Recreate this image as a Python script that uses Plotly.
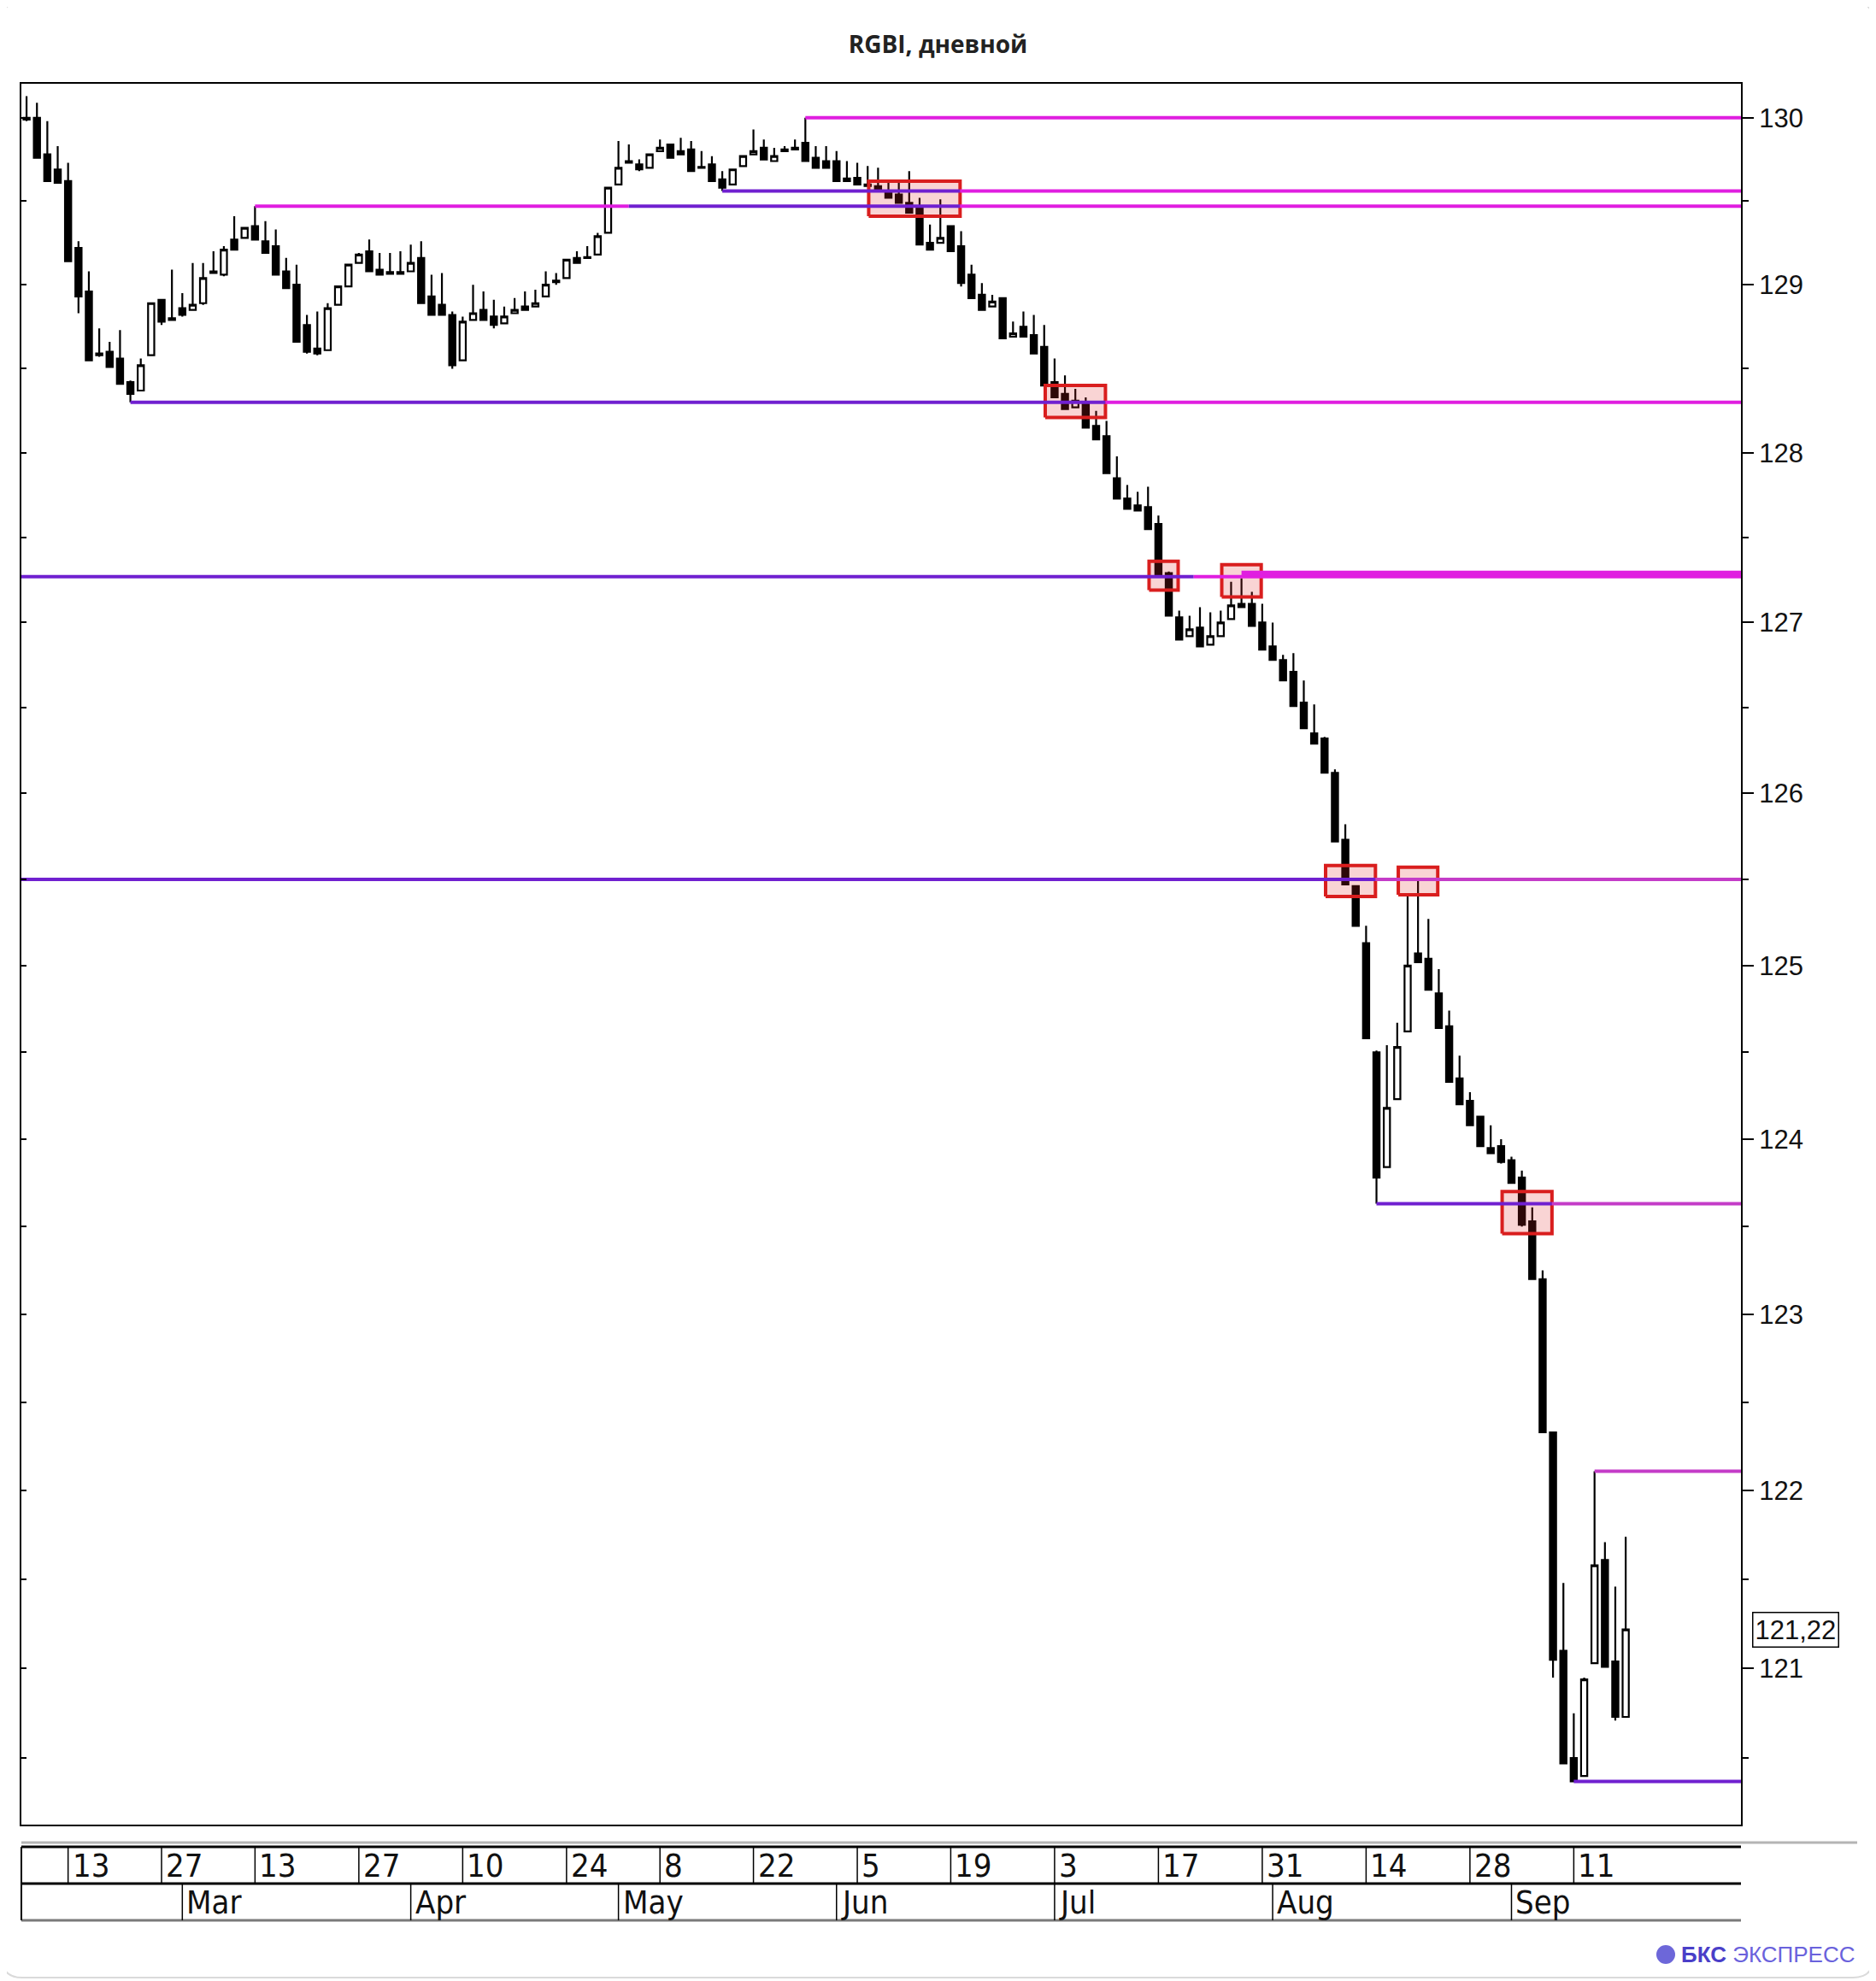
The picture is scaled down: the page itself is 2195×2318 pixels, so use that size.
import numpy as np
import pandas as pd
import plotly.graph_objects as go

# ---------------- canvas geometry (page pixels; the page body adds an 8px offset) ----------------
OFF = 8
W, H = 2195 - OFF, 2318 - OFF
ML, MR, MT, MB = 25 - OFF, 158, 98 - OFF, 183
PW = W - ML - MR
PH = H - MT - MB


def px(X):
    return (X - OFF - ML) / PW


def py(Y):
    return (H - MB - (Y - OFF)) / PH


# ---------------- data ----------------
holidays = ["2023-02-23", "2023-03-08", "2023-05-01", "2023-05-09", "2023-06-12"]
dates = [d for d in pd.bdate_range("2023-02-07", "2023-09-18")
         if d.strftime("%Y-%m-%d") not in holidays]
pos = {d.strftime("%Y-%m-%d"): i for i, d in enumerate(dates)}

open_ = [130.00, 130.00, 129.78, 129.69, 129.62, 129.22, 128.96, 128.59, 128.60, 128.56,
         128.42, 128.37, 128.58, 128.91, 128.80, 128.86, 128.85, 128.89, 129.08, 129.06,
         129.27, 129.28, 129.35, 129.26, 129.23, 129.08, 129.00, 128.76, 128.62, 128.61,
         128.88, 128.99, 129.13, 129.20, 129.09, 129.075, 129.075, 129.08, 129.16, 128.93,
         128.88, 128.82, 128.55, 128.79, 128.85, 128.81, 128.77, 128.83, 128.87, 128.87,
         128.93, 129.025, 129.04, 129.16, 129.165, 129.18, 129.31, 129.60, 129.74, 129.72,
         129.70, 129.80, 129.84, 129.80, 129.81, 129.705, 129.72, 129.63, 129.60, 129.71,
         129.78, 129.82, 129.74, 129.81, 129.82, 129.85, 129.76, 129.74, 129.74, 129.635,
         129.64, 129.60, 129.59, 129.56, 129.54, 129.49, 129.46, 129.25, 129.25, 129.35,
         129.23, 129.06, 128.94, 128.87, 128.92, 128.69, 128.75, 128.70, 128.63, 128.42,
         128.35, 128.27, 128.30, 128.16, 128.10, 127.85, 127.73, 127.69, 127.68, 127.58,
         127.29, 127.03, 126.92, 126.97, 126.87, 126.92, 127.02, 127.11, 127.11, 127.00,
         126.86, 126.78, 126.71, 126.53, 126.35, 126.32, 126.12, 125.73, 125.46, 125.13,
         124.50, 123.84, 124.23, 124.62, 125.07, 125.04, 124.84, 124.65, 124.35, 124.22,
         124.13, 123.95, 123.96, 123.88, 123.78, 123.53, 123.20, 122.33, 121.10, 120.50,
         120.40, 121.03, 121.61, 121.04, 120.73]

high = [130.13, 130.09, 129.98, 129.83, 129.73, 129.26, 129.08, 128.74, 128.66, 128.73,
        128.43, 128.56, 128.89, 128.91, 129.09, 128.95, 129.13, 129.13, 129.20, 129.23,
        129.41, 129.34, 129.47, 129.38, 129.33, 129.16, 129.12, 128.82, 128.84, 128.89,
        128.99, 129.12, 129.19, 129.27, 129.19, 129.19, 129.20, 129.24, 129.26, 129.06,
        129.07, 128.84, 128.81, 129.00, 128.96, 128.91, 128.87, 128.92, 128.96, 128.97,
        129.08, 129.07, 129.15, 129.20, 129.23, 129.31, 129.58, 129.86, 129.84, 129.75,
        129.78, 129.87, 129.84, 129.88, 129.86, 129.80, 129.77, 129.68, 129.69, 129.77,
        129.93, 129.87, 129.82, 129.83, 129.87, 130.00, 129.83, 129.83, 129.80, 129.74,
        129.73, 129.71, 129.70, 129.61, 129.61, 129.68, 129.52, 129.36, 129.51, 129.35,
        129.32, 129.12, 129.01, 128.94, 128.92, 128.78, 128.84, 128.82, 128.76, 128.56,
        128.46, 128.38, 128.33, 128.25, 128.19, 127.98, 127.81, 127.77, 127.80, 127.63,
        127.30, 127.07, 127.04, 127.09, 127.06, 127.07, 127.24, 127.26, 127.18, 127.11,
        127.00, 126.81, 126.82, 126.66, 126.52, 126.33, 126.14, 125.82, 125.46, 125.23,
        124.51, 124.54, 124.67, 125.40, 125.50, 125.27, 124.98, 124.74, 124.48, 124.27,
        124.13, 124.08, 124.00, 123.90, 123.82, 123.61, 123.25, 122.33, 121.48, 120.75,
        120.95, 122.11, 121.71, 121.46, 121.74]

low = [129.98, 129.76, 129.62, 129.61, 129.14, 128.83, 128.55, 128.57, 128.51, 128.41,
       128.30, 128.37, 128.58, 128.76, 128.79, 128.81, 128.85, 128.88, 129.07, 129.05,
       129.21, 129.28, 129.27, 129.19, 129.06, 128.98, 128.66, 128.59, 128.58, 128.61,
       128.88, 128.99, 129.13, 129.08, 129.06, 129.065, 129.065, 129.08, 128.89, 128.82,
       128.82, 128.50, 128.55, 128.79, 128.79, 128.74, 128.77, 128.83, 128.85, 128.87,
       128.93, 129.00, 129.04, 129.13, 129.16, 129.18, 129.31, 129.60, 129.73, 129.68,
       129.70, 129.80, 129.76, 129.78, 129.68, 129.70, 129.62, 129.56, 129.60, 129.71,
       129.78, 129.75, 129.74, 129.80, 129.81, 129.74, 129.70, 129.70, 129.62, 129.62,
       129.60, 129.59, 129.57, 129.52, 129.49, 129.43, 129.24, 129.21, 129.25, 129.20,
       128.99, 128.92, 128.85, 128.87, 128.68, 128.69, 128.69, 128.59, 128.40, 128.33,
       128.26, 128.27, 128.15, 128.08, 127.88, 127.73, 127.67, 127.66, 127.55, 127.28,
       127.04, 126.90, 126.92, 126.86, 126.87, 126.92, 127.02, 127.09, 126.98, 126.84,
       126.78, 126.66, 126.51, 126.38, 126.29, 126.12, 125.72, 125.47, 125.23, 124.58,
       123.63, 123.84, 124.23, 124.62, 125.02, 124.86, 124.64, 124.33, 124.20, 124.08,
       123.96, 123.92, 123.86, 123.75, 123.50, 123.20, 122.33, 120.95, 120.47, 120.37,
       120.40, 121.03, 121.01, 120.71, 120.73]

close = [129.99, 129.76, 129.62, 129.61, 129.14, 128.93, 128.55, 128.58, 128.51, 128.41,
         128.35, 128.52, 128.89, 128.78, 128.79, 128.82, 128.88, 129.04, 129.07, 129.21,
         129.21, 129.34, 129.27, 129.19, 129.06, 128.98, 128.66, 128.60, 128.59, 128.86,
         128.99, 129.12, 129.18, 129.08, 129.06, 129.065, 129.065, 129.13, 128.89, 128.82,
         128.82, 128.52, 128.78, 128.83, 128.79, 128.76, 128.81, 128.85, 128.85, 128.89,
         129.00, 129.015, 129.15, 129.13, 129.16, 129.29, 129.58, 129.70, 129.73, 129.69,
         129.78, 129.82, 129.76, 129.78, 129.68, 129.70, 129.62, 129.58, 129.69, 129.77,
         129.80, 129.75, 129.77, 129.80, 129.81, 129.74, 129.70, 129.70, 129.62, 129.62,
         129.60, 129.59, 129.57, 129.52, 129.49, 129.43, 129.24, 129.21, 129.28, 129.20,
         129.01, 128.92, 128.85, 128.90, 128.68, 128.71, 128.69, 128.59, 128.40, 128.33,
         128.26, 128.31, 128.15, 128.08, 127.88, 127.73, 127.67, 127.66, 127.55, 127.28,
         127.04, 126.90, 126.96, 126.86, 126.92, 127.00, 127.10, 127.09, 126.98, 126.84,
         126.78, 126.66, 126.51, 126.38, 126.29, 126.12, 125.72, 125.47, 125.23, 124.58,
         123.78, 124.18, 124.53, 125.00, 125.02, 124.86, 124.64, 124.33, 124.20, 124.08,
         123.96, 123.92, 123.87, 123.75, 123.51, 123.20, 122.33, 121.05, 120.47, 120.37,
         120.94, 121.58, 121.01, 120.73, 121.22]

y_major = [121, 122, 123, 124, 125, 126, 127, 128, 129, 130]
y_major_labels = ["121", "122", "123", "124", "125", "126", "127", "128", "129", "130"]
y_minor = [120.5, 121.5, 122.5, 123.5, 124.5, 125.5, 126.5, 127.5, 128.5, 129.5]

week_dates = ["2023-02-13", "2023-02-27", "2023-03-13", "2023-03-27", "2023-04-10", "2023-04-24",
              "2023-05-08", "2023-05-22", "2023-06-05", "2023-06-19", "2023-07-03", "2023-07-17",
              "2023-07-31", "2023-08-14", "2023-08-28", "2023-09-11"]
week_labels = ["13", "27", "13", "27", "10", "24", "8", "22", "5", "19", "3", "17", "31", "14", "28", "11"]
month_dates = ["2023-03-01", "2023-04-03", "2023-05-02", "2023-06-01", "2023-07-03", "2023-08-01", "2023-09-01"]
month_labels = ["Mar", "Apr", "May", "Jun", "Jul", "Aug", "Sep"]

last_value = 121.22
last_value_label = "121,22"

# analyst levels: price, start date (None = left edge), shift, end date (None = right edge), shift, colour key, width
level_price = [130.00, 129.56, 129.56, 129.47, 129.47, 129.47, 128.30, 128.30, 127.27, 127.27, 127.29,
               125.50, 125.50, 123.63, 123.63, 122.11, 120.37]
level_start = ["2023-05-29", "2023-05-17", "2023-06-19", "2023-03-13", "2023-05-03", "2023-06-19",
               "2023-02-21", "2023-07-07", None, "2023-07-20", "2023-07-27",
               None, "2023-08-14", "2023-08-15", "2023-09-06", "2023-09-13", "2023-09-11"]
level_start_shift = [0, 0, 0.9, 0, 0, 0.9, 0, 0.9, 0, 0.4, 0, 0, 0.9, 0, 0.9, 0, 0]
level_end = [None, "2023-06-19", None, "2023-05-03", "2023-06-19", None,
             "2023-07-07", None, "2023-07-20", None, None,
             "2023-08-14", None, "2023-09-06", None, None, None]
level_end_shift = [0, 0.9, 0, 0, 0.9, 0, 0.9, 0, 0.4, 0, 0, 0.9, 0, 0.9, 0, 0, 0]
level_color = ["mag", "pur", "mag", "mag", "pur", "mag", "pur", "mag", "pur", "mag", "mag",
               "pur", "mag2", "pur", "mag2", "mag2", "pur"]
level_width = [4, 4, 4, 4, 4, 4, 4, 4, 4, 4, 6, 4, 4, 4, 4, 4, 4]

box_first = ["2023-06-07", "2023-07-03", "2023-07-17", "2023-07-26", "2023-08-09", "2023-08-18", "2023-09-01"]
box_last = ["2023-06-19", "2023-07-07", "2023-07-18", "2023-07-28", "2023-08-14", "2023-08-22", "2023-09-06"]
box_low = [129.41, 128.21, 127.19, 127.15, 125.40, 125.41, 123.46]
box_high = [129.62, 128.40, 127.36, 127.34, 125.58, 125.57, 123.70]

# ---------------- styling ----------------
COLORS = {"mag": "#e01ee0", "mag2": "#c43cc8", "pur": "#7020d0"}
X_LEFT, X_RIGHT = -0.5, 165.1
Y_LO, Y_HI = 120.13, 130.205
BOX_PAD = 0.9
AX_FONT = "Liberation Sans, Arial, sans-serif"
NARROW_FONT = "Liberation Sans Narrow, Arial Narrow, DejaVu Sans Condensed, Liberation Sans, sans-serif"

x_idx = list(range(len(dates)))
fig = go.Figure()

fig.add_trace(go.Candlestick(
    x=x_idx, open=open_, high=high, low=low, close=close,
    increasing=dict(line=dict(color="black", width=2.2), fillcolor="white"),
    decreasing=dict(line=dict(color="black", width=2.2), fillcolor="black"),
    whiskerwidth=0, showlegend=False, hoverinfo="skip",
))

# red highlight boxes
for f, l, lo, hi in zip(box_first, box_last, box_low, box_high):
    x0 = pos[f] - BOX_PAD
    x1 = pos[l] + BOX_PAD
    fig.add_trace(go.Scatter(
        x=[x0, x1, x1, x0, x0], y=[lo, lo, hi, hi, lo], mode="lines",
        fill="toself", fillcolor="rgba(225,40,40,0.20)",
        line=dict(color="#d91e1e", width=4), showlegend=False, hoverinfo="skip",
    ))

# horizontal levels
for p, s, ss, e, es, c, w in zip(level_price, level_start, level_start_shift,
                                 level_end, level_end_shift, level_color, level_width):
    xs = X_LEFT if s is None else pos[s] + ss
    xe = X_RIGHT if e is None else pos[e] + es
    fig.add_trace(go.Scatter(
        x=[xs, xe], y=[p, p], mode="lines", line=dict(color=COLORS[c], width=w),
        showlegend=False, hoverinfo="skip",
    ))

# invisible trace carrying the inner left tick axis
fig.add_trace(go.Scatter(x=[0], y=[125], yaxis="y2", mode="markers",
                         marker=dict(opacity=0), showlegend=False, hoverinfo="skip"))

shapes = []
annotations = []

# date panel frame
shapes.append(dict(type="line", xref="paper", yref="paper", x0=0, x1=px(2173), y0=py(2156), y1=py(2156),
                   line=dict(color="#b4b4b4", width=3)))
shapes.append(dict(type="line", xref="paper", yref="paper", x0=0, x1=1, y0=py(2161), y1=py(2161),
                   line=dict(color="black", width=3)))
shapes.append(dict(type="line", xref="paper", yref="paper", x0=0, x1=1, y0=py(2204), y1=py(2204),
                   line=dict(color="black", width=3)))
shapes.append(dict(type="line", xref="paper", yref="paper", x0=0, x1=1, y0=py(2247), y1=py(2247),
                   line=dict(color="#7a7a7a", width=3)))
shapes.append(dict(type="line", xref="paper", yref="paper", x0=0, x1=0, y0=py(2161), y1=py(2247),
                   line=dict(color="black", width=2)))

for d, lab in zip(week_dates, week_labels):
    shapes.append(dict(type="line", xref="x", yref="paper", x0=pos[d], x1=pos[d],
                       y0=py(2161), y1=py(2204), line=dict(color="black", width=1.5)))
    annotations.append(dict(xref="x", yref="paper", x=pos[d], y=py(2183), xanchor="left",
                            yanchor="middle", xshift=3, text=lab, showarrow=False,
                            font=dict(family=NARROW_FONT, size=38, color="#111")))
for d, lab in zip(month_dates, month_labels):
    shapes.append(dict(type="line", xref="x", yref="paper", x0=pos[d], x1=pos[d],
                       y0=py(2204), y1=py(2247), line=dict(color="black", width=1.5)))
    annotations.append(dict(xref="x", yref="paper", x=pos[d], y=py(2226), xanchor="left",
                            yanchor="middle", xshift=3, text=lab, showarrow=False,
                            font=dict(family=NARROW_FONT, size=38, color="#111")))

# last value label
annotations.append(dict(xref="paper", yref="y", x=px(2050), y=np.log10(last_value), xanchor="left",
                        yanchor="middle", text=last_value_label, showarrow=False,
                        font=dict(family=AX_FONT, size=31, color="#111"),
                        bordercolor="black", borderwidth=1.5, borderpad=2, bgcolor="white"))

# logo
shapes.append(dict(type="circle", xref="paper", yref="paper", x0=px(1938), x1=px(1960),
                   y0=py(2298), y1=py(2276), fillcolor="#6d67d9", line=dict(width=0)))
annotations.append(dict(xref="paper", yref="paper", x=px(1965), y=py(2287), xanchor="left",
                        yanchor="middle", showarrow=False,
                        text="<b>БКС</b> <span style='color:#6a62dc'>ЭКСПРЕСС</span>",
                        font=dict(family=AX_FONT, size=26, color="#4a3fc8")))

# outer rounded frame
X0, Y0, X1, Y1, R = 2, 2, 2192, 2314, 24
frame = (f"M {px(X0+R)},{py(Y0)} L {px(X1-R)},{py(Y0)} Q {px(X1)},{py(Y0)} {px(X1)},{py(Y0+R)} "
         f"L {px(X1)},{py(Y1-R)} Q {px(X1)},{py(Y1)} {px(X1-R)},{py(Y1)} "
         f"L {px(X0+R)},{py(Y1)} Q {px(X0)},{py(Y1)} {px(X0)},{py(Y1-R)} "
         f"L {px(X0)},{py(Y0+R)} Q {px(X0)},{py(Y0)} {px(X0+R)},{py(Y0)} Z")
shapes.append(dict(type="path", xref="paper", yref="paper", path=frame,
                   line=dict(color="#dadada", width=2)))

yrange = [np.log10(Y_LO), np.log10(Y_HI)]

fig.update_layout(
    width=W, height=H, autosize=False,
    margin=dict(l=ML, r=MR, t=MT, b=MB, pad=0),
    paper_bgcolor="white", plot_bgcolor="white",
    hovermode=False, showlegend=False, boxgap=0.15,
    title=dict(text="<b>RGBI, дневной</b>", x=0.5 - OFF / 2 / W, xanchor="center", xref="container",
               y=1 - (52 - OFF) / H, yanchor="middle", yref="container",
               font=dict(family="Open Sans, Noto Sans, sans-serif", size=28, color="#222")),
    xaxis=dict(range=[X_LEFT, X_RIGHT], showline=True, mirror=True, linecolor="black", linewidth=2,
               ticks="", showticklabels=False, showgrid=False, zeroline=False,
               rangeslider=dict(visible=False), fixedrange=True),
    yaxis=dict(type="log", range=yrange, side="right", showline=True, mirror=True,
               linecolor="black", linewidth=2, ticks="outside", ticklen=13, tickwidth=2,
               tickcolor="black", tickmode="array", tickvals=y_major, ticktext=y_major_labels,
               tickfont=dict(family=AX_FONT, size=31, color="#111"), showgrid=False,
               zeroline=False, fixedrange=True,
               minor=dict(tickmode="array", tickvals=y_minor, ticks="outside", ticklen=7,
                          tickwidth=2, tickcolor="black", showgrid=False)),
    yaxis2=dict(type="log", range=yrange, overlaying="y", side="left", showline=False,
                ticks="inside", ticklen=6, tickwidth=2, tickcolor="black", tickmode="array",
                tickvals=sorted(y_major + y_minor), showticklabels=False, showgrid=False,
                zeroline=False, fixedrange=True),
    shapes=shapes, annotations=annotations,
)

fig.write_html("out.html")
